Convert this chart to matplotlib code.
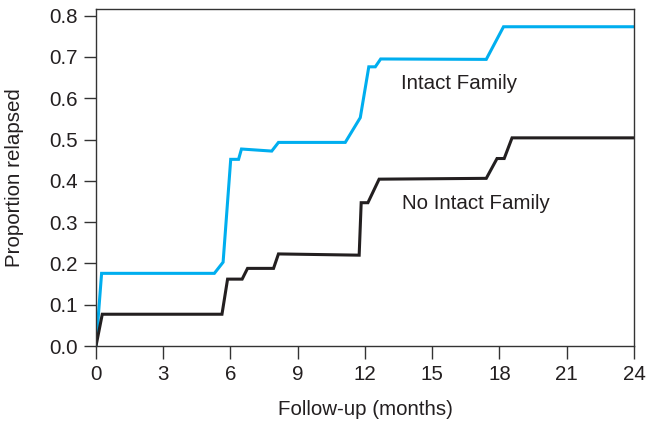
import matplotlib
matplotlib.use("Agg")
import matplotlib.pyplot as plt

plt.rcParams['font.family'] = ['Liberation Sans', 'DejaVu Sans']

# cumulative proportion relapsed
intact_x = [0, 0.25, 5.28, 5.67, 6.01, 6.36, 6.49, 7.84, 8.14, 11.12, 11.79,
            12.17, 12.46, 12.70, 17.41, 18.18, 24]
intact_y = [0, 0.176, 0.176, 0.203, 0.452, 0.452, 0.477, 0.472, 0.493, 0.493,
            0.553, 0.676, 0.676, 0.695, 0.694, 0.773, 0.773]

nointact_x = [0, 0.28, 5.62, 5.87, 6.52, 6.76, 7.92, 8.14, 11.74, 11.83, 12.13,
              12.63, 17.41, 17.89, 18.21, 18.56, 24]
nointact_y = [0, 0.077, 0.077, 0.162, 0.162, 0.188, 0.188, 0.223, 0.220, 0.347,
              0.347, 0.404, 0.406, 0.454, 0.454, 0.504, 0.504]

xticks = [0, 3, 6, 9, 12, 15, 18, 21, 24]
yticks = [0.0, 0.1, 0.2, 0.3, 0.4, 0.5, 0.6, 0.7, 0.8]

fig = plt.figure(figsize=(6.46, 4.22), dpi=100)
ax = fig.add_axes([0.1486, 0.180, 0.8328, 0.7987])

ax.plot(intact_x, intact_y, color='#00aeef', lw=2.2, solid_joinstyle='miter')
ax.plot(nointact_x, nointact_y, color='#231f20', lw=2.2, solid_joinstyle='miter')

ax.text(13.6, 0.636, 'Intact Family', fontsize=14.8, color='#231f20', va='center')
ax.text(13.65, 0.345, 'No Intact Family', fontsize=14.8, color='#231f20', va='center')

ax.set_xlim(0, 24)
ax.set_ylim(0, 0.816)
ax.set_xticks(xticks)
ax.set_yticks(yticks)
ax.set_yticklabels(['%.1f' % v for v in yticks])
ax.tick_params(labelsize=14.8, length=9, width=1, color='#333333',
               labelcolor='#231f20')
ax.tick_params(axis='y', pad=4)
ax.tick_params(axis='x', pad=5)
for s in ax.spines.values():
    s.set_color('#333333')
    s.set_linewidth(1)

ax.set_xlabel('Follow-up (months)', fontsize=14.8, color='#231f20', labelpad=11)
ax.set_ylabel('Proportion relapsed', fontsize=14.8, color='#231f20', labelpad=18)

fig.savefig('out.png', dpi=100)
